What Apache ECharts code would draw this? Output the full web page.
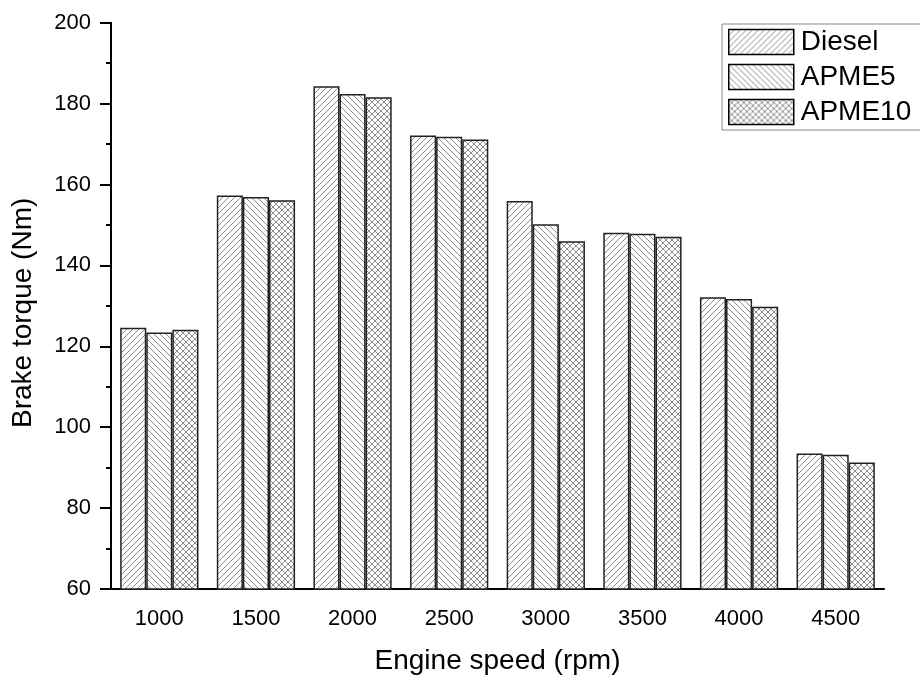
<!DOCTYPE html>
<html>
<head>
<meta charset="utf-8">
<script src="https://cdn.jsdelivr.net/npm/echarts@6/dist/echarts.min.js"></script>
<style>html,body{margin:0;padding:0;background:#fff}#c{width:920px;height:680px}</style>
</head>
<body>
<div id="c"></div>
<script>
const categories = ['1000', '1500', '2000', '2500', '3000', '3500', '4000', '4500'];
const diesel = [124.6, 157.3, 184.3, 172.1, 155.9, 148.1, 132.1, 93.5];
const apme5 = [123.4, 156.9, 182.4, 171.8, 150.2, 147.8, 131.7, 93.2];
const apme10 = [124.1, 156.1, 181.6, 171.1, 146.0, 147.1, 129.8, 91.3];
const seriesNames = ['Diesel', 'APME5', 'APME10'];
const yTicks = [60, 80, 100, 120, 140, 160, 180, 200];

function hatch(kind) {
  const s = 6;
  const c = document.createElement('canvas');
  c.width = s; c.height = s;
  const g = c.getContext('2d');
  g.fillStyle = '#fff';
  g.fillRect(0, 0, s, s);
  g.strokeStyle = '#808080';
  g.lineWidth = 0.9;
  const fwd = () => {
    g.beginPath();
    g.moveTo(-1, s + 1); g.lineTo(s + 1, -1);
    g.moveTo(-1, 1); g.lineTo(1, -1);
    g.moveTo(s - 1, s + 1); g.lineTo(s + 1, s - 1);
    g.stroke();
  };
  const back = () => {
    g.beginPath();
    g.moveTo(-1, -1); g.lineTo(s + 1, s + 1);
    g.moveTo(s - 1, -1); g.lineTo(s + 1, 1);
    g.moveTo(-1, s - 1); g.lineTo(1, s + 1);
    g.stroke();
  };
  if (kind === 'fwd') fwd();
  else if (kind === 'back') back();
  else { fwd(); back(); }
  return { image: c, repeat: 'repeat' };
}

const patterns = [hatch('fwd'), hatch('back'), hatch('cross')];
const values = [diesel, apme5, apme10];

const chart = echarts.init(document.getElementById('c'));
const font = 'Liberation Sans, Arial, sans-serif';
chart.setOption({
  animation: false,
  backgroundColor: '#fff',
  grid: { left: 111, right: 36, top: 22.7, bottom: 90.7 },
  legend: {
    orient: 'vertical',
    left: 722, top: 24,
    padding: [4, 60, 4, 6],
    itemWidth: 65, itemHeight: 25, itemGap: 7,
    borderColor: '#888', borderWidth: 1,
    icon: 'rect',
    itemStyle: { borderColor: '#000', borderWidth: 1.5 },
    textStyle: { fontSize: 28, fontFamily: font, color: '#000', padding: [0, 0, 0, 2] },
    data: seriesNames
  },
  xAxis: [{
    type: 'category',
    data: categories,
    name: 'Engine speed (rpm)',
    nameLocation: 'middle',
    nameGap: 58,
    nameTextStyle: { fontSize: 28, fontFamily: font, color: '#000' },
    axisLine: { lineStyle: { color: '#000', width: 2 } },
    axisTick: { alignWithLabel: true, length: 12, lineStyle: { color: '#000', width: 2 } },
    axisLabel: { fontSize: 22, fontFamily: font, color: '#000', margin: 19 },
    splitLine: { show: false }
  }, {
    type: 'category',
    data: categories,
    position: 'bottom',
    axisLine: { show: false },
    axisTick: { length: 6, lineStyle: { color: '#000', width: 2 } },
    axisLabel: { show: false },
    splitLine: { show: false }
  }],
  yAxis: {
    type: 'value',
    min: yTicks[0], max: yTicks[yTicks.length - 1], interval: 20,
    name: 'Brake torque (Nm)',
    nameLocation: 'middle',
    nameGap: 74,
    nameTextStyle: { fontSize: 28, fontFamily: font, color: '#000', padding: [0, 14, 0, 0] },
    axisLine: { show: true, lineStyle: { color: '#000', width: 2 } },
    axisTick: { show: true, length: 11, lineStyle: { color: '#000', width: 2 } },
    minorTick: { show: true, splitNumber: 2, length: 5, lineStyle: { color: '#000', width: 2 } },
    axisLabel: { fontSize: 22, fontFamily: font, color: '#000', margin: 20 },
    splitLine: { show: false }
  },
  series: seriesNames.map((n, i) => ({
    name: n,
    type: 'bar',
    data: values[i],
    barGap: '0%',
    barCategoryGap: '19%',
    itemStyle: { color: patterns[i], borderColor: '#222', borderWidth: 1.5 }
  }))
});
</script>
</body>
</html>
